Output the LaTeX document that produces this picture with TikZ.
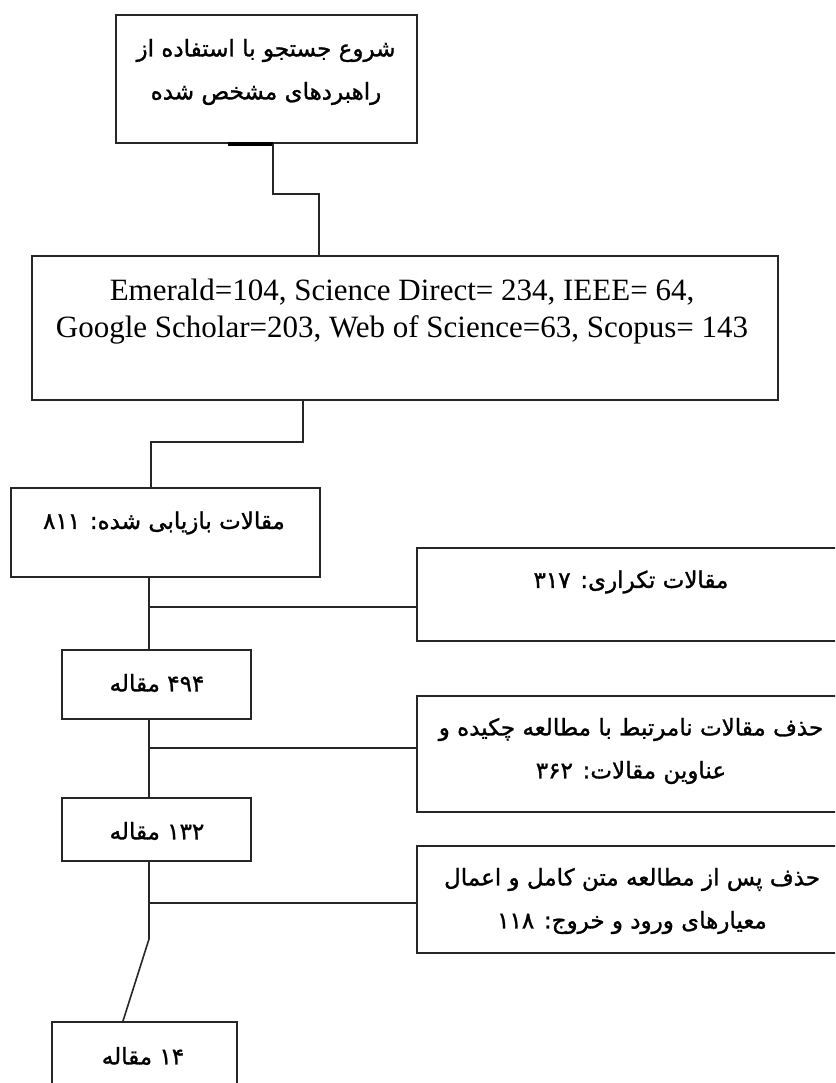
\documentclass[tikz,border=0pt]{standalone}
\usepackage{fontspec}
\setmainfont{Liberation Serif}
\newfontfamily\fa[Script=Arabic,FakeBold=1.2]{DejaVu Sans}
\TeXXeTstate=1
\begin{document}
\begin{tikzpicture}[x=1pt,y=-1pt,
  box/.style={draw=black!85,line width=2pt,inner sep=0pt,rectangle},
  conn/.style={draw=black!85,line width=1.6pt},
  fatxt/.style={font=\fa\fontsize{23}{43}\selectfont,align=center,inner sep=0pt},
  latxt/.style={font=\fontsize{31}{37}\selectfont,align=center,inner sep=0pt}]
\useasboundingbox (0,0) rectangle (835,1083);
\fill[white] (0,0) rectangle (835,1083);
\begin{scope}
\clip (0,0) rectangle (835,1083);
% boxes
\node[box,minimum width=301pt,minimum height=128pt] (b1) at (266.5,79) {};
\node[box,minimum width=746pt,minimum height=144pt] (b2) at (405,328) {};
\node[box,minimum width=309pt,minimum height=89pt] (b3) at (165.5,532.5) {};
\node[box,minimum width=428pt,minimum height=93pt] (r1) at (631,594.5) {};
\node[box,minimum width=189pt,minimum height=69pt] (b4) at (156.5,684.5) {};
\node[box,minimum width=428pt,minimum height=116pt] (r2) at (631,754) {};
\node[box,minimum width=189pt,minimum height=63pt] (b5) at (156.5,829.5) {};
\node[box,minimum width=428pt,minimum height=107pt] (r3) at (631,899.5) {};
\node[box,minimum width=185pt,minimum height=68pt] (b6) at (144.5,1056) {};
% texts
\node[fatxt] (t1) at (266,72) {\beginR شروع جستجو با استفاده از\endR\\\beginR راهبردهای مشخص شده\endR};
\node[latxt] (t2) at (402,311.5) {Emerald=104, Science Direct= 234, IEEE= 64,\\Google Scholar=203, Web of Science=63, Scopus= 143};
\node[fatxt] (t3) at (164,523) {\beginR مقالات بازیابی شده: \beginL۸۱۱\endL\endR};
\node[fatxt] (t4) at (631,582) {\beginR مقالات تکراری: \beginL۳۱۷\endL\endR};
\node[fatxt] (t5) at (157,683) {\beginR \beginL۴۹۴\endL{} مقاله\endR};
\node[fatxt] (t6) at (631,751) {\beginR حذف مقالات نامرتبط با مطالعه چکیده و\endR\\\beginR عناوین مقالات: \beginL۳۶۲\endL\endR};
\node[fatxt] (t7) at (157,831) {\beginR \beginL۱۳۲\endL{} مقاله\endR};
\node[fatxt] (t8) at (632,901) {\beginR حذف پس از مطالعه متن کامل و اعمال\endR\\\beginR معیارهای ورود و خروج: \beginL۱۱۸\endL\endR};
\node[fatxt] (t9) at (143,1056) {\beginR \beginL۱۴\endL{} مقاله\endR};
% connector coordinates
\coordinate (stub) at (228,143);
\coordinate (j1) at (273,194);
\coordinate (j2) at (319,194);
\coordinate (j3) at (303,442);
\coordinate (j4) at (151,442);
\coordinate (s1) at (149,607);
\coordinate (s2) at (149,748);
\coordinate (s3) at (149,903);
\coordinate (k1) at (149,939);
\coordinate (k2) at (123,1022);
% connectors
\draw[draw=black,line width=3.5pt] (stub |- b1.south) -- (j1 |- b1.south);
\draw[conn] (j1 |- b1.south) -- (j1) -- (j2) -- (j2 |- b2.north);
\draw[conn] (j3 |- b2.south) -- (j3) -- (j4) -- (j4 |- b3.north);
\draw[conn] (s1 |- b3.south) -- (s1 |- b4.north);
\draw[conn] (s1) -- (s1 -| r1.west);
\draw[conn] (s2 |- b4.south) -- (s2 |- b5.north);
\draw[conn] (s2) -- (s2 -| r2.west);
\draw[conn] (s3 |- b5.south) -- (k1) -- (k2 |- b6.north);
\draw[conn] (s3) -- (s3 -| r3.west);
\end{scope}
\end{tikzpicture}
\end{document}
